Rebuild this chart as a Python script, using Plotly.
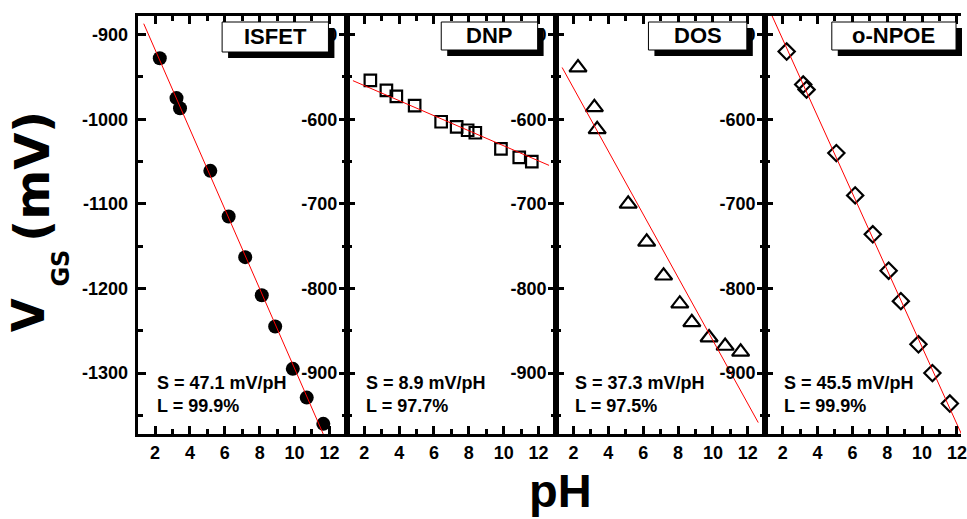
import plotly.graph_objects as go

# ---- data: gate-source voltage (mV) versus pH for each sensor ----
ph_isfet = [2.27, 3.23, 3.43, 5.17, 6.22, 7.17, 8.12, 8.89, 9.90, 10.70, 11.65]
vgs_isfet = [-928, -975, -987, -1061, -1115, -1163, -1208, -1245, -1295, -1329, -1360]

ph_dnp = [2.35, 3.27, 3.84, 4.89, 6.41, 7.30, 7.93, 8.37, 9.84, 10.89, 11.61]
vgs_dnp = [-554, -566, -573, -584, -603, -609, -613, -616, -635, -645, -650]

ph_dos = [2.26, 3.20, 3.36, 5.14, 6.20, 7.17, 8.10, 8.79, 9.78, 10.70, 11.59]
vgs_dos = [-539, -586, -612, -700, -745, -785, -818, -840, -858, -868, -875]

ph_npoe = [2.23, 3.18, 3.37, 5.08, 6.16, 7.17, 8.08, 8.78, 9.79, 10.59, 11.59]
vgs_npoe = [-520, -559, -565, -640, -690, -736, -779, -815, -866, -900, -936]

sensor_names = ["ISFET", "DNP", "DOS", "o-NPOE"]
sensitivity = [47.1, 8.9, 37.3, 45.5]          # mV/pH, slope of linear fit
linearity = [99.9, 97.7, 97.5, 99.9]           # %
fit_intercept = [-823.5, -542.4, -488.5, -414.4]  # mV at pH 0
fit_ph_span = [1.35, 12.6]

x_range = [1, 13]
x_tickvals = [2, 4, 6, 8, 10, 12]
x_ticktext = ["2", "4", "6", "8", "10", "12"]

y_range_isfet = [-1372, -878]
y_tickvals_isfet = [-900, -1000, -1100, -1200, -1300]
y_ticktext_isfet = ["-900", "-1000", "-1100", "-1200", "-1300"]

y_range_membrane = [-972, -478]
y_tickvals_membrane = [-500, -600, -700, -800, -900]
y_ticktext_membrane = ["-500", "-600", "-700", "-800", "-900"]

# ---- figure geometry (pixels) ----
W, H = 967, 519
PLOT_LEFT, PANEL_W = 138.5, 210.5
PLOT_TOP, PLOT_BOTTOM = 16, 434
UNIT_PX = PANEL_W / (x_range[1] - x_range[0])


def px(x):
    return x / W


def py(y):
    return 1 - y / H


ph_sets = [ph_isfet, ph_dnp, ph_dos, ph_npoe]
vgs_sets = [vgs_isfet, vgs_dnp, vgs_dos, vgs_npoe]
markers = [
    dict(symbol="circle", size=14, color="black", line=dict(width=0)),
    dict(symbol="square-open", size=11.5, color="black", line=dict(width=2.2)),
    dict(symbol="triangle-up-open", size=15, color="black", line=dict(width=2.2)),
    dict(symbol="diamond-open", size=12.5, color="black", line=dict(width=2.2)),
]
box_widths = {"ISFET": 107, "DNP": 97, "DOS": 99, "o-NPOE": 125}

fig = go.Figure()
tick_font = dict(family="Liberation Sans, Arial", size=18, color="black", weight="bold")

annotations = []
shapes = []

for i, name in enumerate(sensor_names):
    n = "" if i == 0 else str(i + 1)
    xa, ya = "x" + n, "y" + n

    # measured points
    fig.add_trace(go.Scatter(
        x=ph_sets[i], y=vgs_sets[i], mode="markers", marker=markers[i],
        xaxis=xa, yaxis=ya, showlegend=False, hoverinfo="x+y"))

    # linear fit drawn from the stated sensitivity
    fit_y = [fit_intercept[i] - sensitivity[i] * p for p in fit_ph_span]
    fig.add_trace(go.Scatter(
        x=fit_ph_span, y=fit_y, mode="lines",
        line=dict(color="#ff0000", width=1),
        xaxis=xa, yaxis=ya, showlegend=False, hoverinfo="skip"))

    left = PLOT_LEFT + i * PANEL_W
    right = min(left + PANEL_W, W)
    x_end = x_range[0] + (right - left) / UNIT_PX
    last = i == len(sensor_names) - 1

    if i == 0:
        yr, yv, yt = y_range_isfet, y_tickvals_isfet, y_ticktext_isfet
    else:
        yr, yv, yt = y_range_membrane, y_tickvals_membrane, y_ticktext_membrane

    common = dict(
        showline=True, linewidth=3, linecolor="black",
        ticks="inside", ticklen=8, tickwidth=2.5, tickcolor="black",
        showgrid=False, zeroline=False, tickfont=tick_font,
        fixedrange=True, ticklabeloverflow="allow",
    )
    fig.update_layout(**{
        ("xaxis" + n): dict(
            common, domain=[px(left), px(right)], range=[x_range[0], x_end],
            anchor=ya, mirror="allticks", tickmode="array",
            tickvals=x_tickvals, ticktext=x_ticktext, ticklabelstandoff=0,
            minor=dict(ticks="inside", ticklen=5, tickwidth=2.5, tickcolor="black",
                       tickmode="linear", tick0=0, dtick=1, showgrid=False),
        ),
        ("yaxis" + n): dict(
            common, domain=[py(PLOT_BOTTOM), py(PLOT_TOP)], range=yr,
            anchor=xa, mirror=False if last else "allticks", tickmode="array",
            tickvals=yv, ticktext=yt, ticklabelstandoff=3,
            minor=dict(ticks="inside", ticklen=5, tickwidth=2.5, tickcolor="black",
                       tickmode="linear", tick0=0, dtick=50, showgrid=False),
        ),
    })

    # sensor name box with drop shadow
    bw = box_widths[name]
    b_right = left + 192
    b_left = b_right - bw
    b_top, b_bot = 22, 52 if i == 0 else 50
    sh = 6
    shapes.append(dict(type="rect", xref="paper", yref="paper", layer="above",
                       x0=px(b_left + sh), x1=px(b_right + sh),
                       y0=py(b_bot + sh), y1=py(b_top + sh),
                       fillcolor="black", line=dict(width=0)))
    shapes.append(dict(type="rect", xref="paper", yref="paper", layer="above",
                       x0=px(b_left), x1=px(b_right), y0=py(b_bot), y1=py(b_top),
                       fillcolor="white", line=dict(color="black", width=1)))
    annotations.append(dict(
        text=name, xref="paper", yref="paper", showarrow=False,
        x=px((b_left + b_right) / 2), y=py((b_top + b_bot) / 2),
        xanchor="center", yanchor="middle",
        font=dict(family="Liberation Sans, Arial", size=22, color="black", weight="bold")))

    # sensitivity and linearity
    annotations.append(dict(
        text=f"S = {sensitivity[i]} mV/pH<br>L = {linearity[i]}%",
        xref="paper", yref="paper", showarrow=False, align="left",
        x=px(left + 17), y=py(394.5), xanchor="left", yanchor="middle",
        font=dict(family="Liberation Sans, Arial", size=18, color="black", weight="bold")))

# axis titles
title_font = dict(family="DejaVu Sans", color="black", weight="bold")
annotations += [
    dict(text="V", textangle=-90, x=px(29), y=py(315.5), font=dict(title_font, size=44)),
    dict(text="GS", textangle=-90, x=px(61), y=py(268), font=dict(title_font, size=24)),
    dict(text="(mV)", textangle=-90, x=px(32), y=py(176), font=dict(title_font, size=48)),
    dict(text="pH", x=px(564.5), y=py(490),
         font=dict(family="Liberation Sans, Arial", size=47, color="black", weight="bold")),
]
for a in annotations[-4:]:
    a.update(xref="paper", yref="paper", showarrow=False, xanchor="center", yanchor="middle")

fig.update_layout(
    width=W, height=H, autosize=False,
    margin=dict(l=0, r=0, t=0, b=0),
    paper_bgcolor="white", plot_bgcolor="white",
    annotations=annotations, shapes=shapes,
)

fig.write_html("out.html", config={"displayModeBar": False})
